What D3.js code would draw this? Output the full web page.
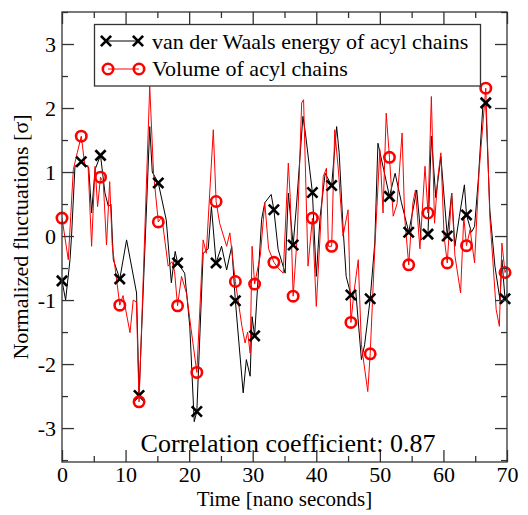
<!DOCTYPE html>
<html>
<head>
<meta charset="utf-8">
<script src="https://cdn.jsdelivr.net/npm/d3@7"></script>
<style>
  body { margin: 0; background: #fff; }
  svg { display: block; }
  text { font-family: "Liberation Serif", "Times New Roman", serif; fill: #000; }
</style>
</head>
<body>
<div id="chart"></div>
<script>
// marker samples (every ~3 ns)
var markerTime = [0, 3.03, 6.06, 9.09, 12.12, 15.15, 18.18, 21.21, 24.24, 27.27, 30.3, 33.33,
    36.36, 39.39, 42.42, 45.45, 48.48, 51.51, 54.54, 57.57, 60.6, 63.63, 66.66, 69.69];
var vdwMarkers = [-0.70, 1.16, 1.26, -0.67, -2.49, 0.83, -0.42, -2.74, -0.42, -1.01, -1.56, 0.41,
    -0.14, 0.68, 0.79, -0.92, -0.98, 0.62, 0.06, 0.03, 0.00, 0.33, 2.08, -0.98];
var volMarkers = [0.28, 1.56, 0.92, -1.08, -2.59, 0.22, -1.09, -2.13, 0.54, -0.71, -0.75, -0.41,
    -0.94, 0.28, -0.16, -1.35, -1.84, 1.23, -0.45, 0.36, -0.42, -0.15, 2.31, -0.57];

// line points between the markers
var vdwLineTime = [0.57, 1.26, 1.5, 2.04, 3.7, 4.2, 4.66, 5.2, 6.76, 7.3, 7.7, 8.07, 10.16, 11.73,
    13.8, 14.2, 16.4, 17.2, 17.8, 19.3, 20.1, 20.8, 22.2, 23.0, 23.5, 25.1, 25.9, 26.7, 28.5, 29.0,
    29.6, 29.9, 31.4, 31.9, 32.9, 34.0, 35.1, 35.6, 36.9, 37.9, 38.3, 40.0, 40.6, 41.4, 43.2, 43.6,
    44.2, 44.7, 46.2, 47.1, 47.6, 49.2, 49.7, 50.6, 52.4, 53.4, 55.0, 55.8, 56.5, 58.1, 58.8, 59.6,
    61.3, 61.8, 62.5, 63.3, 64.4, 64.9, 65.5, 66.2, 67.3, 68.1, 68.9, 69.2, 70.0];
var vdwLineValue = [-1.0, -0.37, 0.0, 1.09, 1.1, 1.07, 0.36, 1.04, 0.67, 0.46, 0.5, -0.37, -0.06, -0.89,
    1.71, 1.0, 0.25, -0.73, -0.24, -0.58, -1.41, -2.9, -0.27, -0.2, 0.46, -0.16, -0.53, -0.16, -2.45, -1.93,
    -2.19, -1.26, 0.26, 0.52, 0.65, -0.21, -0.58, 0.67, 0.5, 1.87, 1.6, -0.63, 0.3, 0.98, 1.71, 1.3,
    0.15, -0.63, -0.85, -1.93, -1.7, -0.11, 1.45, 1.04, 0.98, 0.52, 0.3, 0.72, -0.06, 1.56, 0.6, 1.24,
    0.67, -0.16, 0.3, 0.8, 0.06, 0.15, 0.9, 2.03, 0.4, -0.47, -1.0, -0.37, -0.9];

var volLineTime = [0.99, 1.78, 2.4, 3.6, 4.1, 4.66, 5.2, 5.6, 6.5, 7.0, 7.5, 7.9, 9.6, 10.7, 11.2, 11.7,
    13.8, 14.4, 15.7, 16.7, 17.3, 17.7, 18.8, 19.6, 20.3, 22.2, 22.7, 23.8, 24.8, 25.9, 26.4, 28.3, 28.8,
    29.2, 29.6, 29.9, 31.2, 31.9, 32.5, 34.0, 34.8, 35.6, 35.9, 37.0, 37.7, 38.0, 38.7, 40.0, 41.1, 41.6,
    41.9, 42.9, 43.5, 44.2, 45.0, 45.9, 46.6, 47.1, 48.1, 49.2, 50.0, 50.5, 51.0, 52.1, 52.7, 53.5, 53.9,
    55.2, 55.6, 56.3, 57.1, 58.1, 58.6, 59.1, 59.6, 60.1, 61.3, 61.8, 62.7, 63.2, 64.2, 64.9, 65.6, 67.3,
    68.3, 68.8, 69.2, 70.0];
var volLineValue = [-0.37, 1.04, 1.3, 1.1, 1.1, -0.16, 1.09, 0.46, 0.83, -0.14, 0.85, -0.14, -0.93, -1.51, -1.0, -1.03,
    2.34, 0.98, 0.3, -0.47, -0.4, -0.55, -0.63, -0.9, -1.45, -0.06, -0.27, 1.66, 0.2, -0.16, 0.05, -1.41, -1.67,
    -1.5, -1.83, -0.16, -0.3, 0.52, -0.2, -0.5, -0.58, 1.14, 0.6, 0.0, 2.08, 2.13, -0.47, -1.1, 0.93, 1.06,
    -0.16, 1.66, 1.0, 0.0, 0.41, -0.9, -0.37, -1.7, -2.43, -0.2, 1.35, 0.36, 1.92, 0.31, 0.5, 1.61, 0.3,
    0.52, 0.72, -0.2, 1.09, 2.18, 0.2, 0.9, 1.3, 0.0, 0.67, -0.3, -0.89, 0.3, 0.1, -0.42, 1.0, 0.3,
    -1.15, -1.41, -0.11, -0.5];

var xTicks = [0, 10, 20, 30, 40, 50, 60, 70];
var yTicks = [-3, -2, -1, 0, 1, 2, 3];

var width = 528, height = 515;
var plot = { left: 62, right: 507, top: 12, bottom: 462 };

var svg = d3.select("#chart").append("svg")
    .attr("width", width)
    .attr("height", height);

var x = d3.scaleLinear().domain([0, 70]).range([plot.left, plot.right]);
var y = d3.scaleLinear().domain([3.5, -3.53]).range([plot.top, plot.bottom]);

function merge(lt, lv, mv) {
    var pts = lt.map(function(t, i) { return [t, lv[i]]; });
    markerTime.forEach(function(t, i) { pts.push([t, mv[i]]); });
    pts.sort(function(a, b) { return a[0] - b[0]; });
    return pts;
}

var line = d3.line()
    .x(function(d) { return x(d[0]); })
    .y(function(d) { return y(d[1]); });

svg.append("clipPath").attr("id", "clip")
    .append("rect")
    .attr("x", plot.left).attr("y", plot.top)
    .attr("width", plot.right - plot.left).attr("height", plot.bottom - plot.top);

var g = svg.append("g").attr("clip-path", "url(#clip)");

g.append("path")
    .attr("d", line(merge(vdwLineTime, vdwLineValue, vdwMarkers)))
    .attr("fill", "none")
    .attr("stroke", "#000")
    .attr("stroke-width", 1);

g.append("path")
    .attr("d", line(merge(volLineTime, volLineValue, volMarkers)))
    .attr("fill", "none")
    .attr("stroke", "#ff0000")
    .attr("stroke-width", 1);

// markers
var cross = d3.symbol().type(d3.symbolX).size(70);
svg.append("g").selectAll("path")
    .data(markerTime)
    .enter().append("path")
    .attr("transform", function(d, i) { return "translate(" + x(d) + "," + y(vdwMarkers[i]) + ")"; })
    .attr("d", cross)
    .attr("fill", "none")
    .attr("stroke", "#000")
    .attr("stroke-width", 2.6);

svg.append("g").selectAll("circle")
    .data(markerTime)
    .enter().append("circle")
    .attr("cx", function(d) { return x(d); })
    .attr("cy", function(d, i) { return y(volMarkers[i]); })
    .attr("r", 5.2)
    .attr("fill", "none")
    .attr("stroke", "#ff0000")
    .attr("stroke-width", 2.6);

// axes, ticks pointing inward on all four sides
var minorX = [5, 15, 25, 35, 45, 55, 65];
var minorY = [-3.5, -2.5, -1.5, -0.5, 0.5, 1.5, 2.5, 3.5];
var fmt = function(d) { return String(d); };

function styleAxis(sel) {
    sel.select(".domain").remove();
    sel.selectAll(".tick line").attr("stroke", "#333").attr("stroke-width", 1.3);
    sel.selectAll(".tick text")
        .style("font-family", '"Liberation Serif", "Times New Roman", serif')
        .style("font-size", "22px")
        .attr("fill", "#000");
}

svg.append("g").attr("transform", "translate(0," + plot.bottom + ")")
    .call(d3.axisBottom(x).tickValues(xTicks).tickFormat(fmt).tickSize(-12).tickPadding(4))
    .call(styleAxis);
svg.append("g").attr("transform", "translate(0," + plot.bottom + ")")
    .call(d3.axisBottom(x).tickValues(minorX).tickFormat("").tickSize(-6))
    .call(styleAxis);
svg.append("g").attr("transform", "translate(0," + plot.top + ")")
    .call(d3.axisTop(x).tickValues(xTicks).tickFormat("").tickSize(-12))
    .call(styleAxis);
svg.append("g").attr("transform", "translate(0," + plot.top + ")")
    .call(d3.axisTop(x).tickValues(minorX).tickFormat("").tickSize(-6))
    .call(styleAxis);

svg.append("g").attr("transform", "translate(" + plot.left + ",0)")
    .call(d3.axisLeft(y).tickValues(yTicks).tickFormat(fmt).tickSize(-12).tickPadding(6))
    .call(styleAxis);
svg.append("g").attr("transform", "translate(" + plot.left + ",0)")
    .call(d3.axisLeft(y).tickValues(minorY).tickFormat("").tickSize(-6))
    .call(styleAxis);
svg.append("g").attr("transform", "translate(" + plot.right + ",0)")
    .call(d3.axisRight(y).tickValues(yTicks).tickFormat("").tickSize(-12))
    .call(styleAxis);
svg.append("g").attr("transform", "translate(" + plot.right + ",0)")
    .call(d3.axisRight(y).tickValues(minorY).tickFormat("").tickSize(-6))
    .call(styleAxis);

svg.append("rect")
    .attr("x", plot.left).attr("y", plot.top)
    .attr("width", plot.right - plot.left).attr("height", plot.bottom - plot.top)
    .attr("fill", "none")
    .attr("stroke", "#333")
    .attr("stroke-width", 1.3);

// titles
svg.append("text")
    .attr("x", (plot.left + plot.right) / 2)
    .attr("y", 506)
    .attr("text-anchor", "middle")
    .style("font-size", "21px")
    .text("Time [nano seconds]");

svg.append("text")
    .attr("transform", "translate(28," + ((plot.top + plot.bottom) / 2) + ") rotate(-90)")
    .attr("text-anchor", "middle")
    .style("font-size", "22px")
    .text("Normalized fluctuations [σ]");

svg.append("text")
    .attr("x", 288)
    .attr("y", 452)
    .attr("text-anchor", "middle")
    .style("font-size", "26px")
    .text("Correlation coefficient: 0.87");

// legend
var legend = svg.append("g");
legend.append("rect")
    .attr("x", 94.5).attr("y", 24.5)
    .attr("width", 386).attr("height", 61.5)
    .attr("fill", "#fff")
    .attr("stroke", "#333")
    .attr("stroke-width", 1.3);

legend.append("line")
    .attr("x1", 106).attr("x2", 138).attr("y1", 41).attr("y2", 41)
    .attr("stroke", "#000").attr("stroke-width", 1);
[106, 138].forEach(function(px) {
    legend.append("path")
        .attr("transform", "translate(" + px + ",41)")
        .attr("d", cross)
        .attr("fill", "none")
        .attr("stroke", "#000")
        .attr("stroke-width", 2.6);
});
legend.append("text").attr("x", 152).attr("y", 48.5)
    .style("font-size", "22px")
    .text("van der Waals energy of acyl chains");

legend.append("line")
    .attr("x1", 108).attr("x2", 139).attr("y1", 69).attr("y2", 69)
    .attr("stroke", "#ff0000").attr("stroke-width", 1);
[108, 139].forEach(function(px) {
    legend.append("circle")
        .attr("cx", px).attr("cy", 69).attr("r", 5.2)
        .attr("fill", "none")
        .attr("stroke", "#ff0000")
        .attr("stroke-width", 2.6);
});
legend.append("text").attr("x", 152).attr("y", 76)
    .style("font-size", "22px")
    .text("Volume of acyl chains");
</script>
</body>
</html>
